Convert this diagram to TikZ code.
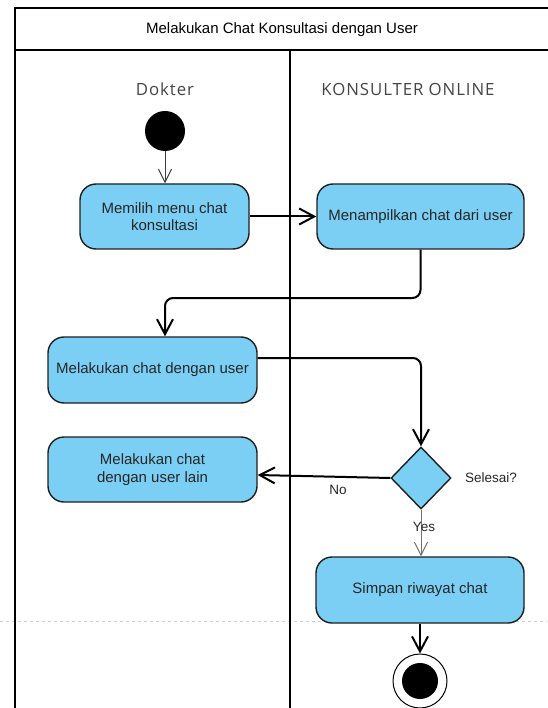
\documentclass[tikz,border=0pt]{standalone}
\usepackage{fontspec}
\setmainfont{Liberation Sans}
\newfontfamily\lanefont{Open Sans}[LetterSpace=5.5]
\usetikzlibrary{shapes.geometric,arrows.meta}

\definecolor{actfill}{HTML}{7BCFF4}
\definecolor{actline}{HTML}{1E1E1E}
\definecolor{lanetext}{HTML}{444444}
\definecolor{pagebreak}{HTML}{CFCFCF}

\tikzset{
  activity/.style={draw=actline, line width=1.4pt, fill=actfill, rounded corners=16pt,
    align=center, inner sep=0pt, font=\fontsize{15}{17.5}\selectfont, text=black!85},
  decision/.style={draw=actline, line width=1.4pt, fill=actfill, diamond, inner sep=0pt,
    minimum width=60pt, minimum height=62pt},
  flow/.style={line width=2pt, black, rounded corners=8pt,
    -{Straight Barb[length=15pt,width=16pt]}},
  thinflow/.style={line width=1pt, black!75,
    -{Straight Barb[length=13pt,width=13pt]}},
  guardflow/.style={line width=1pt, black!55,
    -{Straight Barb[length=13pt,width=13pt]}},
  frame/.style={line width=2pt, black},
  lanelabel/.style={font=\lanefont\fontsize{16.8}{19}\selectfont, text=lanetext},
  guard/.style={font=\fontsize{13.5}{16}\selectfont, text=black!85}
}

\begin{document}
\begin{tikzpicture}[x=1pt,y=-1pt]
  \useasboundingbox (0,0) rectangle (547,708);

  % page break guide
  \draw[pagebreak, line width=0.8pt, dash pattern=on 3pt off 3pt] (0,621) -- (547,621);

  % pool with two swimlanes
  \draw[frame] (15,730) -- (15,8) -- (560,8);
  \draw[frame] (15,50) -- (560,50);
  \draw[frame] (290,50) -- (290,730);
  \node (title) at (282,30) {\fontsize{15}{18}\selectfont Melakukan Chat Konsultasi dengan User};
  \node[lanelabel] (laneA) at (165,89) {Dokter};
  \node[lanelabel] (laneB) at (408,89) {KONSULTER ONLINE};

  % start node
  \node[circle, fill=black, minimum size=40pt, inner sep=0pt] (start) at (165,131) {};

  % activities
  \node[activity, minimum width=169pt, minimum height=65pt] (pilih) at (164.5,216.5)
    {Memilih menu chat\\konsultasi};
  \node[activity, minimum width=207pt, minimum height=65pt] (tampil) at (420.5,216.5)
    {Menampilkan chat dari user};
  \node[activity, minimum width=209pt, minimum height=66pt] (chat) at (152.5,370)
    {Melakukan chat dengan user};
  \node[activity, minimum width=209pt, minimum height=65pt] (lain) at (152.5,469.5)
    {Melakukan chat\\dengan user lain};
  \node[decision] (selesai) at (421,478) {};
  \node[activity, minimum width=208pt, minimum height=66pt] (simpan) at (420,590)
    {Simpan riwayat chat};

  % final node
  \node[circle, draw=black, line width=1pt, fill=white, minimum size=54pt, inner sep=0pt] (final) at (420,681) {};
  \node[circle, fill=black, minimum size=36pt, inner sep=0pt] (finaldot) at (final.center) {};

  % guard labels
  \node[guard] (lblSelesai) at (491,478) {Selesai?};
  \node[guard] (lblNo) at (338,490) {No};

  % control flows
  \draw[thinflow] (start.south) -- (start.south |- pilih.north);
  \draw[flow] (pilih.east) -- (tampil.west);
  \coordinate (bend1) at (420.5,298);
  \draw[flow] (tampil.south) -- (bend1) -| ([xshift=12.5pt]chat.north);
  \draw[flow] ([yshift=12pt]chat.east) -| (selesai.north);
  \draw[flow] (selesai.west) -- ([yshift=-5.5pt]lain.east);
  \draw[guardflow] (selesai.south) -- (selesai.south |- simpan.north);
  \node[guard] (lblYes) at (424,527) {Yes};
  \draw[flow] (simpan.south) -- (final.north);
\end{tikzpicture}
\end{document}
